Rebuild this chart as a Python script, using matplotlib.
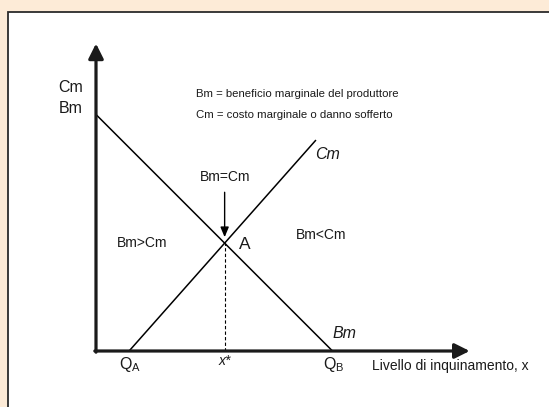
"""Marginal benefit / marginal cost of pollution diagram"""

import numpy as np
import matplotlib
matplotlib.use("Agg")
import matplotlib.pyplot as plt
from matplotlib.patches import Rectangle

plt.rcParams['font.family'] = ['Liberation Sans', 'DejaVu Sans']
plt.rcParams['mathtext.fontset'] = 'custom'
plt.rcParams['mathtext.rm'] = 'Liberation Sans'
plt.rcParams['mathtext.it'] = 'Liberation Sans:italic'

# model values (arbitrary units)
bm_x = [0.0, 10.0]          # Bm: from the y-intercept down to Q_B
bm_y = [10.0, 0.0]
cm_x = [1.4, 9.3]           # Cm: from Q_A up to the end of the line
cm_y = [0.0, 8.92]
y_axis_top = 13.0
x_axis_end = 15.8

legend_lines = ["Bm = beneficio marginale del produttore",
                "Cm = costo marginale o danno sofferto"]
x_label = "Livello di inquinamento, x"

# pixel layout: origin of the diagram at (96, 351), 23.65 px per unit
W, H = 549, 407
X0, Y0, S = 96, 351, 23.65


def px(x, y):
    """pixel position -> data coordinates (used only for text placement)"""
    return (x - X0) / S, (Y0 - y) / S


fig = plt.figure(figsize=(W / 100, H / 100), dpi=100)
fig.patch.set_facecolor('#FDEBD7')

ax = fig.add_axes([0, 0, 1, 1])
ax.set_xlim(-X0 / S, (W - X0) / S)
ax.set_ylim((Y0 - H) / S, Y0 / S)
ax.axis('off')
ax.patch.set_alpha(0)
ax.add_patch(Rectangle((8 / W, -0.05), 1.1, (H - 12) / H + 0.05,
                       transform=fig.transFigure, facecolor='white',
                       edgecolor='#2b2b2b', lw=1.3, zorder=-5, clip_on=False))

# intersection of the two straight lines
bm_slope = (bm_y[1] - bm_y[0]) / (bm_x[1] - bm_x[0])
cm_slope = (cm_y[1] - cm_y[0]) / (cm_x[1] - cm_x[0])
x_star = (cm_y[0] - cm_slope * cm_x[0] - bm_y[0]) / (bm_slope - cm_slope)
y_star = bm_y[0] + bm_slope * x_star

# axes with arrow heads
axis_kw = dict(arrowstyle='-|>,head_length=0.9,head_width=0.45',
               lw=2.3, color='#1a1a1a', shrinkA=0, shrinkB=0, mutation_scale=10)
ax.annotate("", xy=(0, y_axis_top), xytext=(0, -0.05), arrowprops=axis_kw)
ax.annotate("", xy=(x_axis_end, 0), xytext=(-0.05, 0), arrowprops=axis_kw)

ax.plot(bm_x, bm_y, color='black', lw=1.1, solid_capstyle='butt')
ax.plot(cm_x, cm_y, color='black', lw=1.1, solid_capstyle='butt')
ax.plot([x_star, x_star], [0, y_star], color='black', lw=0.8, ls=(0, (3, 2)))

# small arrow pointing to the equilibrium
ax.annotate("", xy=(x_star, y_star + 0.25), xytext=(x_star, y_star + 2.15),
            arrowprops=dict(arrowstyle='-|>,head_length=0.6,head_width=0.25',
                            lw=1.0, color='black', shrinkA=0, shrinkB=0,
                            mutation_scale=10))

tc = '#1a1a1a'
ax.text(*px(71, 87), "Cm", fontsize=11.5, ha='center', va='center', color=tc)
ax.text(*px(71, 108), "Bm", fontsize=11.5, ha='center', va='center', color=tc)

for i, line in enumerate(legend_lines):
    ax.text(*px(196, 94 + 21 * i), line, fontsize=8.2, ha='left', va='center',
            color=tc)

ax.text(*px(315, 154), "Cm", fontsize=11.5, style='italic', ha='left',
        va='center', color=tc)
ax.text(*px(344, 334), "Bm", fontsize=11.5, style='italic', ha='center',
        va='center', color=tc)

ax.text(*px(225, 177), "Bm=Cm", fontsize=10, ha='center', va='center', color=tc)
ax.text(*px(142, 243), "Bm>Cm", fontsize=10, ha='center', va='center', color=tc)
ax.text(*px(321, 235), "Bm<Cm", fontsize=10, ha='center', va='center', color=tc)
ax.text(*px(245, 244), "A", fontsize=12.5, ha='center', va='center', color=tc)

ax.text(*px(119, 364), r"Q$_\mathrm{A}$", fontsize=11.5, ha='left', va='center',
        color=tc)
ax.text(x_star, px(0, 361)[1], "x*", fontsize=10, style='italic',
        ha='center', va='center', color=tc)
ax.text(*px(323, 364), r"Q$_\mathrm{B}$", fontsize=11.5, ha='left', va='center',
        color=tc)
ax.text(*px(372, 366), x_label, fontsize=10, ha='left', va='center', color=tc)

fig.savefig("out.png", dpi=100, facecolor=fig.get_facecolor())
